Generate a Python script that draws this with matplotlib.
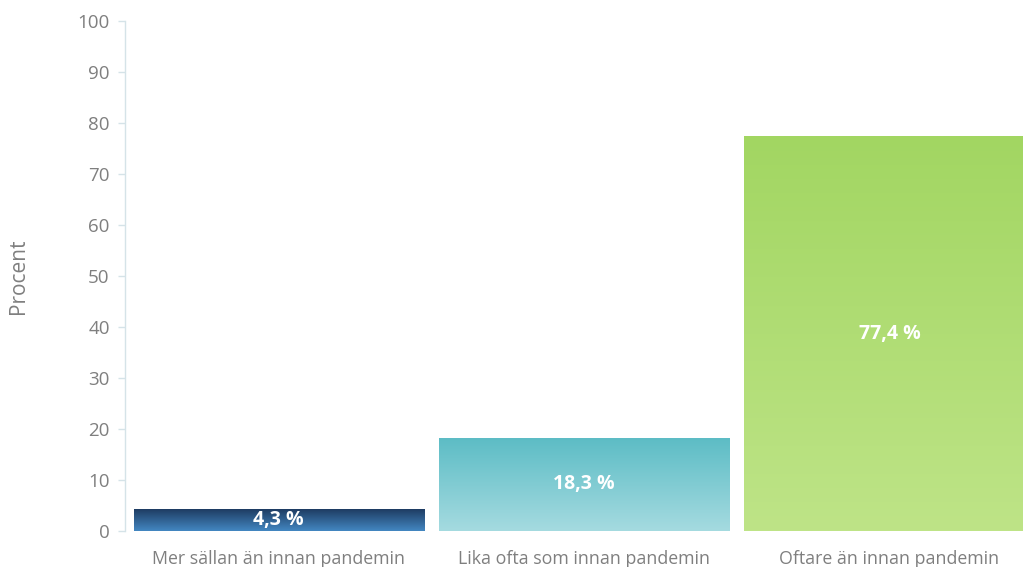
import numpy as np
import matplotlib
matplotlib.use("Agg")
import matplotlib.pyplot as plt
from matplotlib.colors import LinearSegmentedColormap

categories = ["Mer sällan än innan pandemin",
              "Lika ofta som innan pandemin",
              "Oftare än innan pandemin"]
values = [4.3, 18.3, 77.4]
value_labels = ["4,3 %", "18,3 %", "77,4 %"]
# gradient (top colour, bottom colour) for each bar
bar_gradients = [("#1e3c62", "#4387c2"),
                 ("#5cbcc5", "#a5dbe0"),
                 ("#a2d662", "#bee487")]
yticks = list(range(0, 101, 10))

plt.rcParams["font.family"] = ["Open Sans", "DejaVu Sans"]

fig = plt.figure(figsize=(10.23, 5.67), dpi=100)
ax = fig.add_axes([125 / 1023, 36 / 567, 1 - 125 / 1023, 510 / 567])

x = np.arange(len(categories))
width = 0.95
bars = ax.bar(x, values, width=width, color="none", edgecolor="none", zorder=2)

for rect, (top, bottom) in zip(bars, bar_gradients):
    cmap = LinearSegmentedColormap.from_list("g", [bottom, top])
    x0, y0 = rect.get_x(), rect.get_y()
    w, h = rect.get_width(), rect.get_height()
    grad = np.linspace(0, 1, 256).reshape(-1, 1)
    im = ax.imshow(grad, cmap=cmap, origin="lower", aspect="auto",
                   extent=[x0, x0 + w, y0, y0 + h], zorder=2)
    im.set_clip_path(rect)

for xi, v, lab in zip(x, values, value_labels):
    ax.text(xi, v / 2, lab, ha="center", va="center", color="white",
            fontsize=14, fontweight="bold", zorder=3)

ax.set_xlim(-0.503, 2.437)
ax.set_ylim(0, 100)
ax.set_yticks(yticks)
ax.set_yticklabels([str(t) for t in yticks])
ax.set_xticks(x)
ax.set_xticklabels(categories)

for side in ["top", "right", "bottom"]:
    ax.spines[side].set_visible(False)
ax.spines["left"].set_color("#d5e3e8")
ax.spines["left"].set_linewidth(1.0)

ax.tick_params(axis="y", colors="#d5e3e8", labelcolor="#7f7f7f",
               labelsize=13.5, length=5, width=1, pad=6)
ax.tick_params(axis="x", length=0, labelcolor="#7f7f7f", labelsize=12.8, pad=14)
ax.set_ylabel("Procent", color="#7f7f7f", fontsize=15)
ax.yaxis.set_label_coords(-0.107, 0.5)

fig.savefig("out.png", dpi=100, facecolor="white")
